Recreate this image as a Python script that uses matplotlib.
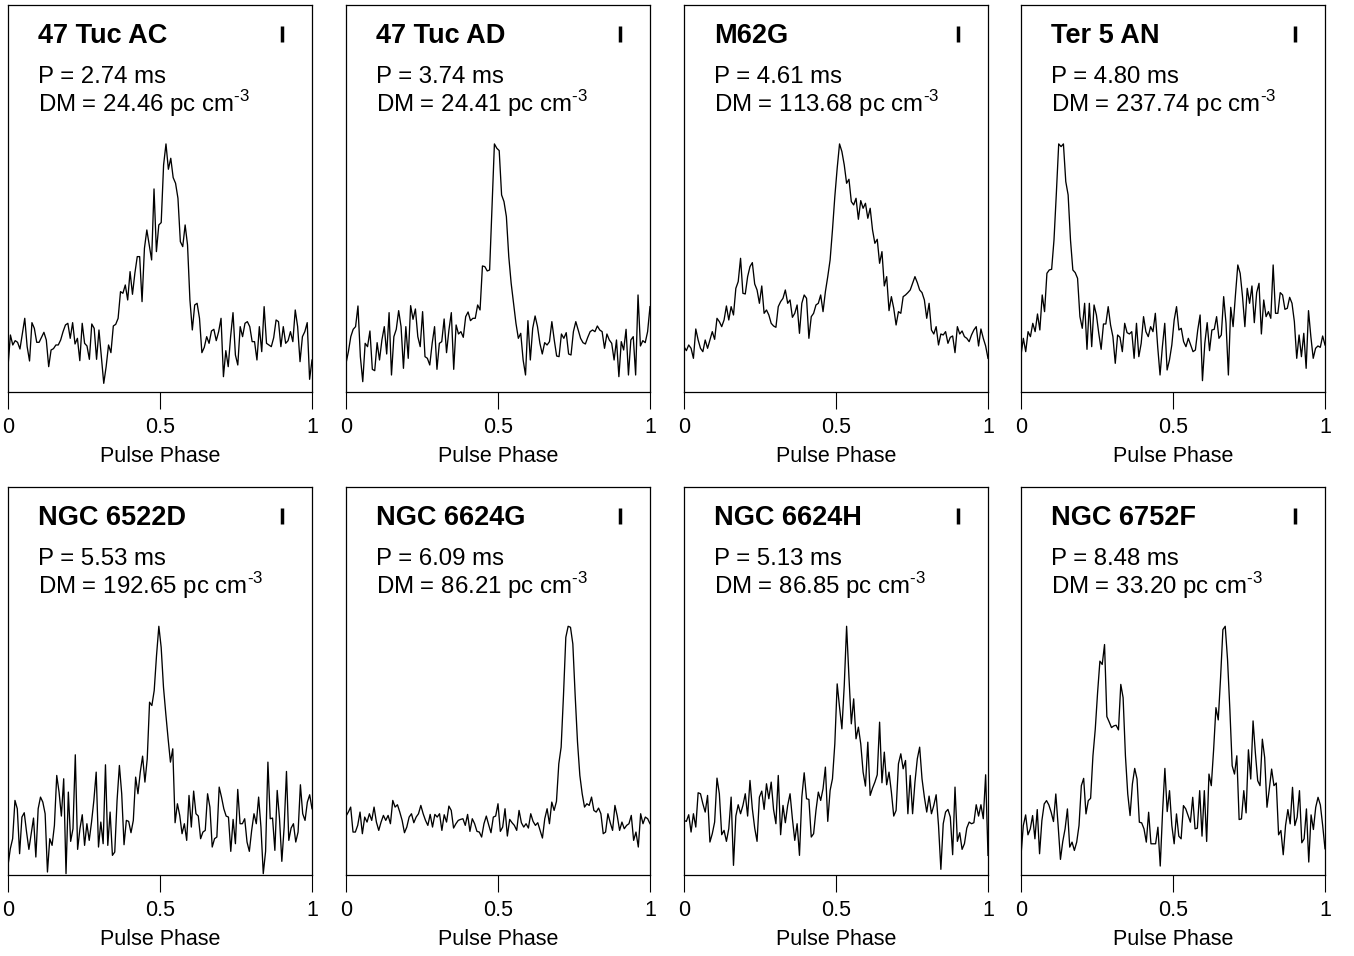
import numpy as np
import matplotlib.pyplot as plt

plt.rcParams['font.family'] = ['Liberation Sans', 'DejaVu Sans']
plt.rcParams['mathtext.fontset'] = 'custom'
plt.rcParams['mathtext.rm'] = 'Liberation Sans'

names = ["47 Tuc AC", "47 Tuc AD", "M62G", "Ter 5 AN",
         "NGC 6522D", "NGC 6624G", "NGC 6624H", "NGC 6752F"]
periods = [2.74, 3.74, 4.61, 4.80, 5.53, 6.09, 5.13, 8.48]
dms = [24.46, 24.41, 113.68, 237.74, 192.65, 86.21, 86.85, 33.20]

# pulse profiles, arbitrary intensity units (one value per phase bin)
tuc_ac = [76, 171, 141, 154, 149, 129, 176, 221, 136, 93,
          208, 191, 149, 149, 164, 179, 156, 76, 126, 130,
          141, 141, 156, 181, 201, 206, 161, 208, 144, 161,
          94, 206, 146, 138, 98, 204, 191, 98, 186, 106,
          26, 76, 141, 118, 198, 203, 221, 301, 296, 321,
          276, 361, 293, 356, 406, 406, 271, 431, 486, 441,
          396, 609, 421, 501, 508, 681, 744, 668, 701, 643,
          626, 581, 451, 436, 501, 441, 276, 186, 261, 266,
          221, 118, 134, 166, 146, 183, 188, 154, 181, 221,
          46, 124, 76, 166, 238, 111, 81, 196, 166, 206,
          211, 196, 151, 151, 96, 196, 121, 256, 146, 141,
          136, 163, 216, 211, 136, 196, 146, 154, 181, 151,
          246, 196, 91, 166, 181, 208, 38, 96]

tuc_ad = [86, 121, 166, 188, 196, 258, 106, 31, 146, 136,
          183, 68, 64, 148, 96, 156, 196, 114, 238, 51,
          166, 188, 244, 196, 71, 196, 101, 259, 218, 249,
          166, 136, 241, 106, 101, 81, 146, 196, 68, 146,
          151, 219, 118, 186, 238, 68, 201, 174, 181, 164,
          226, 240, 214, 221, 221, 261, 246, 378, 376, 363,
          366, 556, 744, 731, 724, 591, 571, 526, 406, 326,
          266, 206, 161, 176, 96, 51, 214, 96, 191, 228,
          196, 146, 114, 148, 141, 151, 211, 156, 108, 106,
          174, 161, 178, 114, 111, 181, 211, 186, 161, 148,
          144, 164, 181, 186, 181, 198, 186, 181, 131, 174,
          156, 146, 96, 156, 46, 151, 126, 188, 51, 156,
          166, 51, 291, 138, 154, 148, 181, 256]

m62g = [136, 124, 141, 131, 101, 189, 156, 131, 121, 156,
        131, 156, 181, 158, 221, 211, 196, 216, 258, 216,
        256, 231, 311, 331, 401, 296, 294, 346, 376, 388,
        324, 306, 266, 318, 236, 246, 231, 206, 198, 194,
        256, 271, 281, 306, 266, 276, 224, 236, 261, 176,
        266, 291, 281, 161, 226, 236, 261, 266, 291, 241,
        301, 346, 396, 486, 586, 671, 744, 721, 681, 626,
        638, 571, 561, 581, 518, 574, 551, 566, 521, 551,
        486, 446, 458, 386, 421, 318, 346, 244, 286, 251,
        201, 241, 236, 286, 291, 298, 306, 326, 346, 328,
        306, 298, 276, 221, 266, 186, 174, 196, 141, 174,
        171, 181, 146, 164, 168, 118, 196, 174, 183, 166,
        161, 151, 171, 186, 196, 138, 189, 161, 138, 101]

ter5_an = [111, 161, 121, 181, 166, 206, 181, 234, 186, 291,
           241, 356, 366, 368, 456, 596, 744, 736, 744, 631,
           591, 456, 366, 358, 341, 226, 191, 266, 128, 266,
           136, 261, 231, 176, 128, 204, 204, 256, 201, 166,
           86, 171, 164, 121, 206, 178, 174, 181, 101, 206,
           106, 146, 226, 181, 166, 196, 181, 236, 136, 51,
           136, 206, 66, 96, 141, 216, 256, 186, 191, 151,
           136, 161, 141, 121, 126, 186, 231, 34, 146, 208,
           124, 186, 188, 226, 161, 171, 286, 206, 51, 254,
           196, 291, 381, 356, 286, 196, 311, 266, 318, 208,
           298, 326, 174, 276, 226, 241, 221, 381, 236, 236,
           298, 291, 248, 251, 284, 266, 211, 101, 171, 106,
           176, 71, 244, 166, 101, 131, 138, 134, 168, 141]

ngc6522d = [29, 79, 109, 224, 199, 64, 174, 187, 129, 77,
            124, 171, 54, 199, 234, 219, 184, 9, 109, 89,
            149, 299, 249, 177, 289, 4, 249, 101, 139, 361,
            77, 139, 181, 89, 154, 104, 159, 224, 309, 84,
            159, 94, 331, 89, 189, 59, 69, 224, 329, 244,
            91, 164, 161, 127, 164, 294, 244, 309, 357, 279,
            349, 519, 509, 554, 659, 747, 684, 564, 484, 409,
            339, 379, 157, 214, 179, 124, 154, 104, 239, 144,
            252, 184, 177, 109, 129, 134, 244, 204, 84, 109,
            114, 264, 234, 199, 177, 174, 71, 167, 94, 257,
            154, 154, 169, 99, 71, 134, 184, 154, 234, 144,
            4, 71, 339, 169, 171, 74, 254, 169, 41, 144,
            311, 104, 141, 154, 99, 129, 271, 184, 164, 219,
            241, 199]

ngc6624g = [177, 189, 204, 129, 129, 149, 189, 124, 174, 159,
            184, 164, 204, 159, 134, 159, 179, 164, 179, 154,
            224, 204, 211, 189, 164, 127, 144, 174, 184, 157,
            174, 184, 209, 184, 164, 149, 182, 144, 182, 174,
            184, 134, 181, 159, 207, 194, 141, 154, 164, 167,
            169, 149, 182, 131, 169, 154, 131, 129, 114, 154,
            177, 151, 127, 174, 177, 214, 131, 144, 199, 117,
            167, 157, 149, 134, 194, 157, 144, 154, 141, 184,
            161, 149, 157, 134, 111, 169, 199, 154, 219, 194,
            221, 334, 384, 539, 714, 747, 744, 694, 539, 399,
            299, 244, 204, 214, 209, 234, 194, 189, 201, 184,
            124, 129, 184, 157, 134, 209, 177, 134, 159, 139,
            149, 154, 179, 104, 129, 84, 184, 154, 174, 169,
            154]

ngc6624h = [164, 161, 181, 129, 184, 144, 247, 244, 214, 189,
            239, 99, 124, 159, 291, 244, 121, 134, 101, 139,
            234, 29, 177, 211, 184, 209, 244, 177, 284, 199,
            141, 101, 234, 252, 197, 274, 229, 279, 197, 154,
            299, 121, 209, 157, 209, 244, 169, 104, 154, 59,
            234, 307, 229, 227, 114, 124, 194, 249, 224, 259,
            324, 161, 254, 289, 394, 574, 504, 439, 569, 747,
            594, 454, 529, 409, 444, 394, 309, 267, 399, 239,
            261, 279, 301, 459, 277, 369, 271, 309, 249, 177,
            194, 334, 364, 319, 344, 184, 299, 184, 279, 349,
            384, 289, 234, 189, 237, 184, 209, 241, 149, 17,
            154, 189, 197, 174, 61, 264, 101, 127, 77, 94,
            141, 159, 154, 157, 211, 177, 211, 169, 301, 59]

ngc6752f = [59, 149, 181, 121, 139, 179, 109, 197, 64, 164,
            214, 224, 211, 189, 161, 244, 149, 47, 101, 139,
            199, 84, 99, 74, 99, 149, 269, 291, 184, 224,
            231, 359, 439, 549, 644, 634, 694, 477, 461, 444,
            449, 451, 437, 574, 534, 359, 244, 179, 274, 321,
            289, 159, 157, 139, 99, 189, 94, 94, 94, 144,
            27, 189, 321, 191, 254, 149, 94, 184, 117, 109,
            209, 199, 179, 159, 234, 139, 141, 254, 117, 254,
            101, 304, 269, 377, 504, 467, 594, 739, 749, 649,
            499, 329, 304, 359, 167, 169, 254, 187, 377, 289,
            464, 367, 284, 269, 409, 354, 204, 259, 319, 269,
            277, 121, 134, 61, 149, 197, 154, 264, 149, 174,
            254, 97, 109, 199, 39, 181, 137, 204, 234, 211,
            149, 79]

profiles = [tuc_ac, tuc_ad, m62g, ter5_an, ngc6522d, ngc6624g, ngc6624h, ngc6752f]

fig = plt.figure(figsize=(13.54, 9.56), dpi=100)

lefts = [8, 346, 684, 1021]
rows = [(392, 387), (875, 388)]

for i, prof in enumerate(profiles):
    r, c = divmod(i, 4)
    bottom_px, h_px = rows[r]
    ax = fig.add_axes([lefts[c] / 1354, (956 - bottom_px) / 956,
                       304 / 1354, h_px / 956])
    prof = np.array(prof, dtype=float)
    prof = prof / prof.max()
    phase = np.linspace(0, 1, len(prof))
    ax.plot(phase, prof, color='black', lw=0.95)
    ax.set_xlim(0, 1)
    ax.set_ylim(0, 1.56)
    ax.set_yticks([])
    ax.set_xticks([0, 0.5, 1])
    ax.set_xticklabels(['0', '0.5', '1'])
    ax.tick_params(axis='x', direction='out', length=12, width=0.8,
                   labelsize=15.5, pad=6)
    for s in ax.spines.values():
        s.set_linewidth(0.9)
    ax.set_xlabel('Pulse Phase', fontsize=15.5, labelpad=6)

    # 1-sigma noise bar
    ax.vlines(0.9, 1.41, 1.475, color='black', lw=2.5)

    ax.text(0.098, 0.902, names[i], transform=ax.transAxes,
            fontsize=19.5, fontweight='bold', va='baseline')
    ax.text(0.098, 0.798, 'P = %.2f ms' % periods[i],
            transform=ax.transAxes, fontsize=17.3, va='baseline')
    ax.text(0.098, 0.7235, 'DM = %.2f pc cm$^{\\text{-}3}$' % dms[i],
            transform=ax.transAxes, fontsize=17.3, va='baseline')

plt.savefig('out.png', dpi=100)
